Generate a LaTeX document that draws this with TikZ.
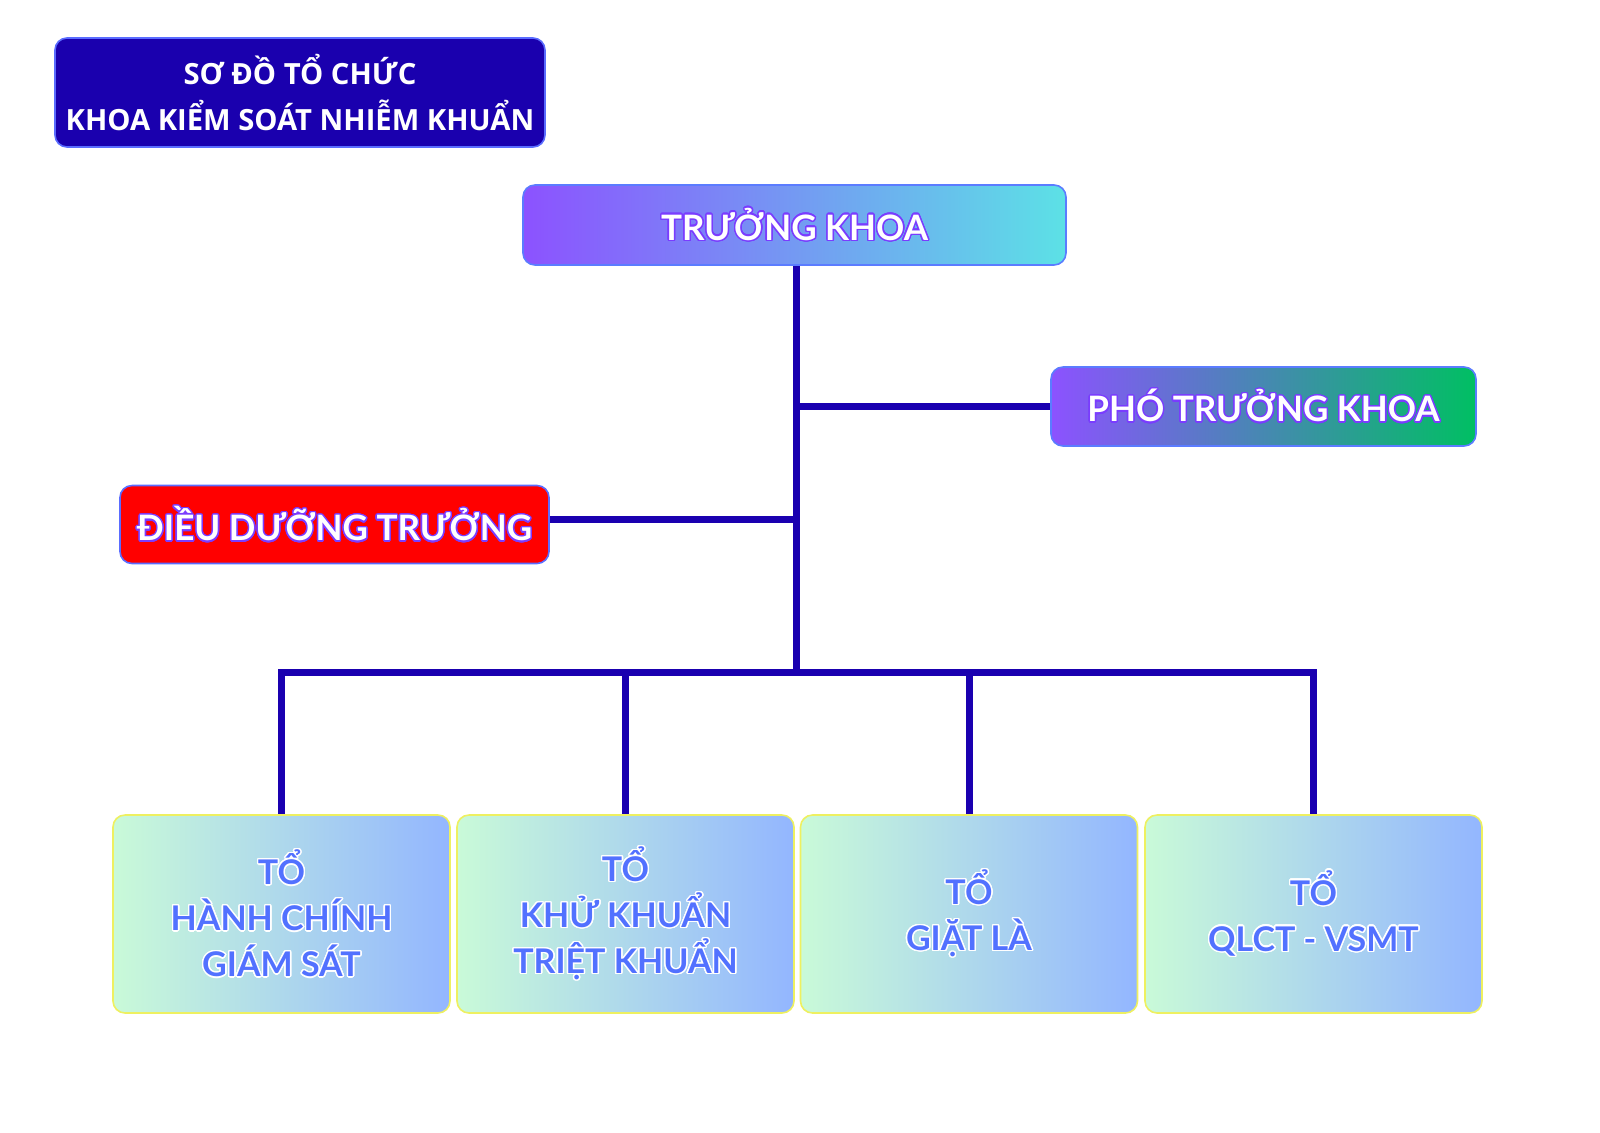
\documentclass[tikz,border=0pt]{standalone}
\usepackage{fontspec}
\setmainfont{Lato}
\newfontfamily\titlefont{Open Sans}
\usepackage{contour}
\contourlength{0.7pt}
\contournumber{24}
\definecolor{titlebg}{HTML}{1A00AE}
\definecolor{titlebd}{HTML}{5A6CFF}
\definecolor{linecol}{HTML}{1A00B0}
\definecolor{violet}{HTML}{8C52FF}
\definecolor{cyanr}{HTML}{5CE1E6}
\definecolor{greenr}{HTML}{00BF63}
\definecolor{boxbd}{HTML}{5B7CFF}
\definecolor{outl}{HTML}{7A3CFF}
\definecolor{mint}{HTML}{C9FAD8}
\definecolor{skyb}{HTML}{93B6FF}
\definecolor{ylw}{HTML}{EEF060}
\definecolor{txtblue}{HTML}{5271FF}
\pgfdeclarelayer{back}
\pgfdeclarelayer{bg}
\pgfsetlayers{back,bg,main}
\begin{document}
\begin{tikzpicture}[x=0.5pt,y=-0.5pt,
  box/.style={draw, rounded corners=6pt, line width=0.8pt, inner sep=0pt, align=center},
  toplbl/.style={box, draw=boxbd, text=white, font=\bfseries\fontsize{17.5}{21}\selectfont},
  botbox/.style={box, draw=ylw, left color=mint, right color=skyb, text=txtblue,
    minimum width=168.5pt, minimum height=99pt, font=\bfseries\fontsize{17}{23}\selectfont},
  conn/.style={draw=linecol, line width=3.5pt}]
\begin{pgfonlayer}{back}
\fill[white] (0,0) rectangle (1600,1132);
\end{pgfonlayer}
\useasboundingbox (0,0) rectangle (1600,1132);

\node[box, draw=titlebd, fill=titlebg, text=white, minimum width=245pt, minimum height=54.5pt,
  font=\titlefont\bfseries\fontsize{14.6}{23}\selectfont] (title) at (300,92.5)
  {SƠ ĐỒ TỔ CHỨC\\KHOA KIỂM SOÁT NHIỄM KHUẨN};

\node[toplbl, left color=violet, right color=cyanr, minimum width=271.5pt, minimum height=40pt]
  (tk) at (794.5,225) {\contour{outl}{TRƯỞNG KHOA}};

\node[toplbl, left color=violet, right color=greenr, minimum width=212.5pt, minimum height=39.5pt]
  (pho) at (1263.5,406.5) {\contour{outl}{PHÓ TRƯỞNG KHOA}};

\node[toplbl, fill=red, draw=titlebd, minimum width=214.5pt, minimum height=39pt]
  (ddt) at (334.5,524.5) {\contour{outl}{ĐIỀU DƯỠNG TRƯỞNG}};

\node[botbox] (b1) at (281.5,914) {\contour{white}{TỔ}\\\contour{white}{HÀNH CHÍNH}\\\contour{white}{GIÁM SÁT}};
\node[botbox] (b2) at (625.5,914) {\contour{white}{TỔ}\\\contour{white}{KHỬ KHUẨN}\\\contour{white}{TRIỆT KHUẨN}};
\node[botbox] (b3) at (969,914) {\contour{white}{TỔ}\\\contour{white}{GIẶT LÀ}};
\node[botbox] (b4) at (1313.5,914) {\contour{white}{TỔ}\\\contour{white}{QLCT - VSMT}};

\coordinate (bus) at (796,672);
\begin{pgfonlayer}{bg}
\path[conn] ([xshift=0.75pt]tk.south) -- ([xshift=0.75pt]tk.south |- bus);
\path[conn] (pho.west) -- (pho.west -| bus);
\path[conn] ([yshift=2.5pt]ddt.east) -- ([yshift=2.5pt]ddt.east -| bus);
\path[conn, line cap=rect] (b1.north |- bus) -- (b4.north |- bus);
\path[conn] (b1.north) -- (b1.north |- bus);
\path[conn] (b2.north) -- (b2.north |- bus);
\path[conn] (b3.north) -- (b3.north |- bus);
\path[conn] (b4.north) -- (b4.north |- bus);
\end{pgfonlayer}
\end{tikzpicture}
\end{document}
